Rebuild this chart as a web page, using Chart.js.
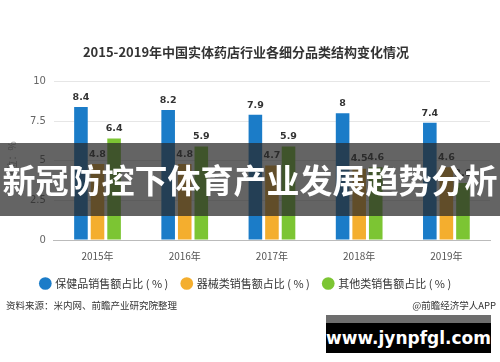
<!DOCTYPE html>
<html lang="zh">
<head>
    <meta charset="UTF-8">
    <title>2015-2019年中国实体药店行业各细分品类结构变化情况</title>
    <style>
        body {
            margin: 0;
            background-color: #ffffff;
            font-family: "Noto Sans CJK SC", "Noto Sans", sans-serif;
        }
        .wrap {
            position: relative;
            width: 500px;
            height: 362px;
            overflow: hidden;
        }
        #chart {
            position: absolute;
            left: 0;
            top: 0;
        }
        .source {
            position: absolute;
            left: 6px;
            top: 298px;
            font-size: 9.5px;
            color: #333;
        }
        .app {
            position: absolute;
            right: 4px;
            top: 298px;
            font-size: 9.5px;
            color: #333;
        }
        /* bandeau gris par-dessus */
        .band {
            position: absolute;
            left: 0;
            top: 143px;
            width: 500px;
            height: 73px;
            background: rgba(40, 40, 40, 0.72);
            color: #fff;
            font-weight: bold;
            font-size: 33px;
            line-height: 73px;
            text-align: center;
        }
        .site {
            position: absolute;
            left: 326px;
            top: 315px;
            width: 165px;
            height: 38px;
            background: #000;
            border-top: 8px solid #6e6e6e;
            box-sizing: border-box;
            color: #fff;
            font-family: "DejaVu Sans", sans-serif;
            font-weight: bold;
            font-size: 17px;
            line-height: 30px;
            text-align: center;
        }
    </style>
</head>
<body>
<div class="wrap">
    <canvas id="chart" width="500" height="362"></canvas>
    <div class="source">资料来源：米内网、前瞻产业研究院整理</div>
    <div class="app">@前瞻经济学人APP</div>
    <div class="band">新冠防控下体育产业发展趋势分析</div>
    <div class="site">www.jynpfgl.com</div>
</div>

<script src="https://cdn.jsdelivr.net/npm/chart.js"></script>
<script>
    const years = ['2015年', '2016年', '2017年', '2018年', '2019年'];
    const baojian = [8.4, 8.2, 7.9, 8, 7.4];
    const qixie = [4.8, 4.8, 4.7, 4.5, 4.6];
    const qita = [6.4, 5.9, 5.9, 4.6, 3.6];
    const yTicks = [0, 2.5, 5, 7.5, 10];

    // valeurs au-dessus des barres
    const valueLabels = {
        id: 'valueLabels',
        afterDatasetsDraw(chart) {
            const ctx = chart.ctx;
            ctx.save();
            ctx.font = 'bold 9.5px "DejaVu Sans", sans-serif';
            ctx.fillStyle = '#333';
            ctx.textAlign = 'center';
            ctx.textBaseline = 'bottom';
            chart.data.datasets.forEach((ds, i) => {
                chart.getDatasetMeta(i).data.forEach((bar, j) => {
                    ctx.fillText(String(ds.data[j]), bar.x, bar.y - 5);
                });
            });
            ctx.restore();
        }
    };

    new Chart(document.getElementById('chart'), {
        type: 'bar',
        data: {
            labels: years,
            datasets: [
                { label: '保健品销售额占比 ( % )', data: baojian, backgroundColor: '#1b7cc8' },
                { label: '器械类销售额占比 ( % )', data: qixie, backgroundColor: '#f4ae2e' },
                { label: '其他类销售额占比 ( % )', data: qita, backgroundColor: '#7cc533' }
            ]
        },
        options: {
            responsive: false,
            animation: false,
            layout: { padding: { top: 44, left: 2, right: 10, bottom: 63 } },
            datasets: { bar: { categoryPercentage: 0.57, barPercentage: 0.82 } },
            plugins: {
                title: {
                    display: true,
                    text: '2015-2019年中国实体药店行业各细分品类结构变化情况',
                    color: '#333',
                    font: { size: 13, weight: 'bold', family: '"Noto Sans CJK SC"' },
                    padding: { top: 0, bottom: 22 }
                },
                legend: {
                    position: 'bottom',
                    labels: {
                        usePointStyle: true,
                        pointStyle: 'circle',
                        boxWidth: 9,
                        boxHeight: 9,
                        padding: 14,
                        color: '#333',
                        font: { size: 11, family: '"Noto Sans CJK SC"' }
                    }
                },
                tooltip: { enabled: false }
            },
            scales: {
                x: {
                    grid: { display: false },
                    border: { color: '#bbb' },
                    ticks: { color: '#555', padding: 2, font: { size: 10, family: '"Noto Sans CJK SC"' } }
                },
                y: {
                    min: 0,
                    max: 10,
                    afterBuildTicks(axis) {
                        axis.ticks = yTicks.map(v => ({ value: v }));
                    },
                    grid: { color: '#e6e6e6', drawTicks: false },
                    border: { display: false },
                    ticks: { color: '#666', padding: 8, font: { size: 10, family: '"DejaVu Sans"' } },
                    title: {
                        display: true,
                        text: '单位：%',
                        color: '#999',
                        font: { size: 10, family: '"Noto Sans CJK SC"' }
                    }
                }
            }
        },
        plugins: [valueLabels]
    });
</script>
</body>
</html>
